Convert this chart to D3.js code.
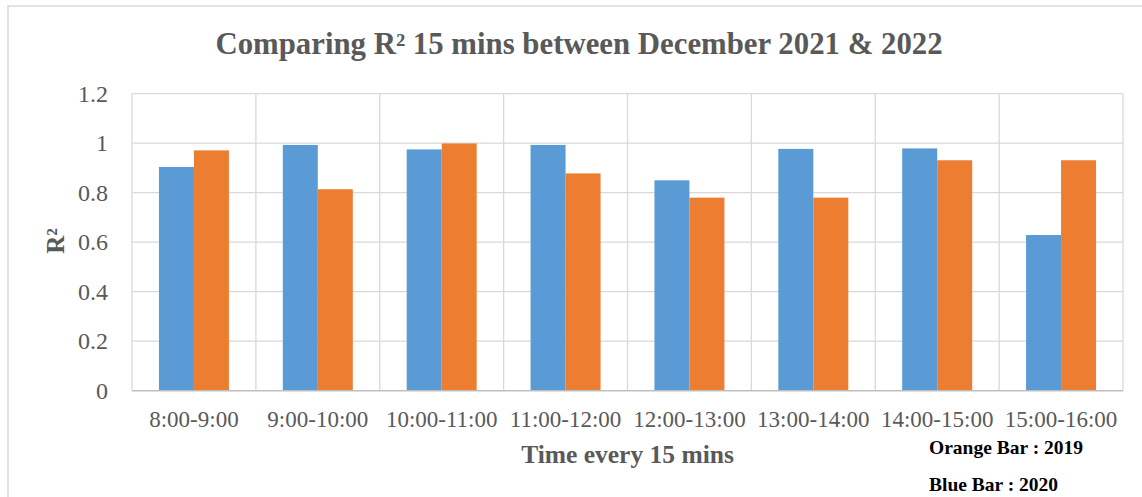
<!DOCTYPE html>
<html>
<head>
<meta charset="utf-8">
<script src="https://cdn.jsdelivr.net/npm/d3@7"></script>
<style>
  html, body { margin: 0; padding: 0; background: #fff; }
  svg { display: block; }
  text { font-family: "Liberation Serif", "Times New Roman", serif; }
</style>
</head>
<body>
<svg id="chart" width="1142" height="497"></svg>
<script>
// Time slots along the x axis
const categories = ["8:00-9:00", "9:00-10:00", "10:00-11:00", "11:00-12:00",
                    "12:00-13:00", "13:00-14:00", "14:00-15:00", "15:00-16:00"];
// R² per time slot
const blueValues   = [0.904, 0.993, 0.975, 0.993, 0.850, 0.977, 0.979, 0.629];
const orangeValues = [0.971, 0.814, 0.999, 0.878, 0.780, 0.780, 0.931, 0.931];
const seriesNames  = ["Blue Bar", "Orange Bar"];
const yTicks = [0, 0.2, 0.4, 0.6, 0.8, 1, 1.2];
const legendLines = ["Orange Bar : 2019", "Blue Bar : 2020"];

const colors = { "Blue Bar": "#5b9bd5", "Orange Bar": "#ed7d31" };
const textGray = "#595959";
const gridGray = "#d9d9d9";

const svg = d3.select("#chart");
const plot = { left: 132, right: 1123, top: 93.7, bottom: 390.7 };

// chart frame
svg.append("rect")
  .attr("x", 8).attr("y", 6)
  .attr("width", 1160).attr("height", 520)
  .attr("fill", "#fff")
  .attr("stroke", gridGray).attr("stroke-width", 1.5);

const x0 = d3.scaleBand().domain(categories).range([plot.left, plot.right]).padding(0);
const x1 = d3.scaleBand().domain(seriesNames).range([0, x0.bandwidth()])
  .paddingInner(0).paddingOuter(0.77);
const y = d3.scaleLinear().domain([0, 1.2]).range([plot.bottom, plot.top]);

// horizontal gridlines
svg.append("g").selectAll("line").data(yTicks.filter(d => d > 0)).join("line")
  .attr("x1", plot.left).attr("x2", plot.right)
  .attr("y1", d => y(d)).attr("y2", d => y(d))
  .attr("stroke", gridGray).attr("stroke-width", 1.3);

// vertical category separators
const bounds = categories.map(c => x0(c)).concat([plot.right]);
svg.append("g").selectAll("line").data(bounds).join("line")
  .attr("x1", d => d).attr("x2", d => d)
  .attr("y1", plot.top).attr("y2", plot.bottom)
  .attr("stroke", gridGray).attr("stroke-width", 1.3);

// bars
const rows = categories.map((c, i) => ({
  cat: c,
  vals: [{ s: "Blue Bar", v: blueValues[i] }, { s: "Orange Bar", v: orangeValues[i] }]
}));
svg.append("g").selectAll("g").data(rows).join("g")
  .attr("transform", d => `translate(${x0(d.cat)},0)`)
  .selectAll("rect").data(d => d.vals).join("rect")
  .attr("x", d => x1(d.s))
  .attr("width", x1.bandwidth())
  .attr("y", d => y(d.v))
  .attr("height", d => y(0) - y(d.v))
  .attr("fill", d => colors[d.s]);

// baseline
svg.append("line")
  .attr("x1", plot.left).attr("x2", plot.right)
  .attr("y1", y(0)).attr("y2", y(0))
  .attr("stroke", "#bfbfbf").attr("stroke-width", 1.5);

// y axis labels
const yAxis = d3.axisLeft(y).tickValues(yTicks).tickSize(0).tickPadding(24)
  .tickFormat(d => d3.format("")(+d.toFixed(1)));
const gy = svg.append("g").attr("transform", `translate(${plot.left},0)`).call(yAxis);
gy.select(".domain").remove();
gy.selectAll("text").attr("font-size", 24).attr("fill", textGray)
  .attr("font-family", "Liberation Serif, Times New Roman, serif");

// x axis labels
const xAxis = d3.axisBottom(x0).tickSize(0).tickPadding(0);
const gx = svg.append("g").attr("transform", `translate(0,${plot.bottom})`).call(xAxis);
gx.select(".domain").remove();
gx.selectAll("text").attr("font-size", 23).attr("fill", textGray)
  .attr("dy", null).attr("y", 36)
  .attr("font-family", "Liberation Serif, Times New Roman, serif");

// title
svg.append("text")
  .attr("x", 579).attr("y", 53.5)
  .attr("text-anchor", "middle")
  .attr("font-size", 30.8).attr("font-weight", "bold").attr("fill", textGray)
  .text("Comparing R² 15 mins between December 2021 & 2022");

// axis titles
svg.append("text")
  .attr("x", (plot.left + plot.right) / 2).attr("y", 462.5)
  .attr("text-anchor", "middle")
  .attr("font-size", 25.5).attr("font-weight", "bold").attr("fill", textGray)
  .text("Time every 15 mins");

svg.append("text")
  .attr("transform", "translate(64,241) rotate(-90)")
  .attr("text-anchor", "middle")
  .attr("font-size", 25).attr("font-weight", "bold").attr("fill", textGray)
  .text("R²");

// series key
svg.append("g").selectAll("text").data(legendLines).join("text")
  .attr("x", 929).attr("y", (d, i) => 454 + i * 36.7)
  .attr("font-size", 19.5).attr("font-weight", "bold").attr("fill", "#000")
  .text(d => d);
</script>
</body>
</html>
